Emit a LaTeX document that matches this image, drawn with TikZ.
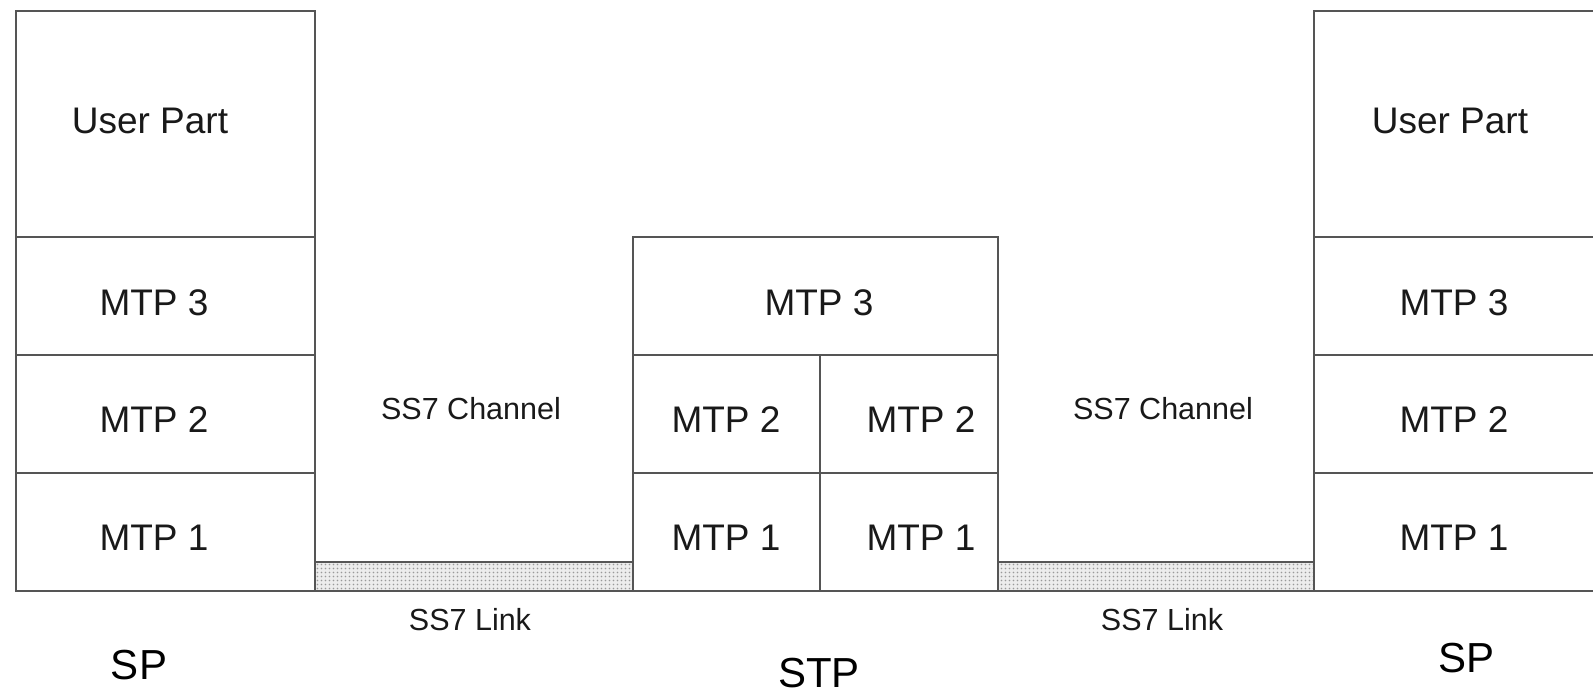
\documentclass[tikz,border=0pt]{standalone}
\usepackage{fontspec}
\setmainfont{Liberation Sans}
\usetikzlibrary{patterns}
\definecolor{linec}{RGB}{85,85,85}
\definecolor{txtc}{RGB}{25,25,25}
\pgfdeclarepatternformonly{linkdots}{\pgfqpoint{-1pt}{-1pt}}{\pgfqpoint{4pt}{4pt}}{\pgfqpoint{4pt}{4pt}}%
{\pgfpathcircle{\pgfqpoint{1.5pt}{1.5pt}}{0.9pt}\pgfusepath{fill}}
\begin{document}
\begin{tikzpicture}[x=1pt,y=-1pt,
  layer/.style={draw=linec, line width=2pt, rectangle, inner sep=0pt, outer sep=0pt, anchor=north west},
  linkbar/.style={layer, preaction={fill=gray!15}, pattern=linkdots, pattern color=gray!80},
  boxtxt/.style={inner sep=0pt, text=txtc, font=\fontsize{37}{40}\selectfont},
  chtxt/.style={inner sep=0pt, text=txtc, font=\fontsize{30.5}{33}\selectfont},
  nametxt/.style={inner sep=0pt, text=black, font=\fontsize{42}{46}\selectfont}]
\useasboundingbox (0,0) rectangle (1593,694);
\clip (0,0) rectangle (1593,694);
\fill[white] (0,0) rectangle (1593,694);
% left SP stack
\node[layer, minimum width=299pt, minimum height=226pt] (lUP) at (16,11) {};
\node[layer, minimum width=299pt, minimum height=118pt] (lM3) at (16,237) {};
\node[layer, minimum width=299pt, minimum height=118pt] (lM2) at (16,355) {};
\node[layer, minimum width=299pt, minimum height=118pt] (lM1) at (16,473) {};
% left link
\node[linkbar, minimum width=318pt, minimum height=29pt] (link1) at (315,562) {};
% STP stack
\node[layer, minimum width=365pt, minimum height=118pt] (sM3) at (633,237) {};
\node[layer, minimum width=187pt, minimum height=118pt] (sM2a) at (633,355) {};
\node[layer, minimum width=178pt, minimum height=118pt] (sM2b) at (820,355) {};
\node[layer, minimum width=187pt, minimum height=118pt] (sM1a) at (633,473) {};
\node[layer, minimum width=178pt, minimum height=118pt] (sM1b) at (820,473) {};
% right link
\node[linkbar, minimum width=316pt, minimum height=29pt] (link2) at (998,562) {};
% right SP stack (cut off by the right edge)
\node[layer, minimum width=300pt, minimum height=226pt] (rUP) at (1314,11) {};
\node[layer, minimum width=300pt, minimum height=118pt] (rM3) at (1314,237) {};
\node[layer, minimum width=300pt, minimum height=118pt] (rM2) at (1314,355) {};
\node[layer, minimum width=300pt, minimum height=118pt] (rM1) at (1314,473) {};
% texts
\node[boxtxt] (tlUP) at (150,121) {User Part};
\node[boxtxt] (tlM3) at (154,303) {MTP 3};
\node[boxtxt] (tlM2) at (154,420) {MTP 2};
\node[boxtxt] (tlM1) at (154,538) {MTP 1};
\node[boxtxt] (tsM3) at (819,303) {MTP 3};
\node[boxtxt] (tsM2a) at (726,420) {MTP 2};
\node[boxtxt] (tsM2b) at (921,420) {MTP 2};
\node[boxtxt] (tsM1a) at (726,538) {MTP 1};
\node[boxtxt] (tsM1b) at (921,538) {MTP 1};
\node[boxtxt] (trUP) at (1450,121) {User Part};
\node[boxtxt] (trM3) at (1454,303) {MTP 3};
\node[boxtxt] (trM2) at (1454,420) {MTP 2};
\node[boxtxt] (trM1) at (1454,538) {MTP 1};
\node[chtxt] (ch1) at (471,409) {SS7 Channel};
\node[chtxt] (ch2) at (1163,409) {SS7 Channel};
\node[chtxt] (lk1) at (470,620) {SS7 Link};
\node[chtxt] (lk2) at (1162,620) {SS7 Link};
\node[nametxt] (nSP1) at (139,665) {SP};
\node[nametxt] (nSTP) at (819,673) {STP};
\node[nametxt] (nSP2) at (1466,658) {SP};
\end{tikzpicture}
\end{document}
